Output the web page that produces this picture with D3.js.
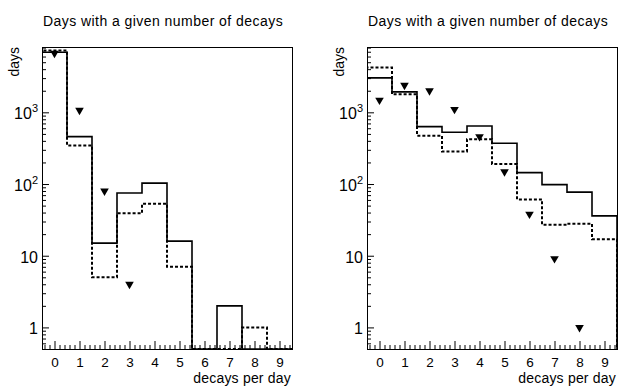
<!DOCTYPE html>
<html>
<head>
<meta charset="utf-8">
<script src="https://cdn.jsdelivr.net/npm/d3@7"></script>
<style>
  body { margin: 0; background: #fff; }
  svg { display: block; font-family: "Liberation Sans", Arial, Helvetica, sans-serif; }
</style>
</head>
<body>
<svg id="chart" width="618" height="386"></svg>
<script>
// bins: decays per day
var bins = [0, 1, 2, 3, 4, 5, 6, 7, 8, 9];

// left panel
var leftSolid   = [6900, 458, 15, 75, 103, 16, 0, 2, 0, 0];
var leftDashed  = [7300, 344, 5, 39, 53, 7, 0, 0, 1, 0];
var leftMarkers = [6650, 1070, 80, 4.0, null, null, null, null, null, null];

// right panel
var rightSolid   = [3020, 1930, 631, 527, 645, 370, 144, 98, 77, 36];
var rightDashed  = [4220, 1780, 473, 284, 422, 190, 61, 27, 28, 17];
var rightMarkers = [1480, 2390, 2000, 1100, 458, 148, 38, 9.1, 1.0, null];

var yMajor = [1, 10, 100, 1000];
var yMinor = [0.6, 0.7, 0.8, 0.9, 2, 3, 4, 5, 6, 7, 8, 9,
              20, 30, 40, 50, 60, 70, 80, 90,
              200, 300, 400, 500, 600, 700, 800, 900,
              2000, 3000, 4000, 5000, 6000, 7000, 8000];
var yLabels = {1: ["1", ""], 10: ["10", ""], 100: ["10", "2"], 1000: ["10", "3"]};

var titleText = "Days with a given number of decays";
var xTitle = "decays per day";
var yTitle = "days";

var yMin = 0.5, yMax = 8150;

var svg = d3.select("#chart");

function drawPanel(left, solid, dashed, markers, id) {
    var x = d3.scaleLinear().domain([-0.5, 9.5]).range([left, left + 250]);
    var y = d3.scaleLog().domain([yMin, yMax]).range([349, 47]);

    var g = svg.append("g");

    g.append("text")
        .attr("x", left + 121)
        .attr("y", 26)
        .attr("text-anchor", "middle")
        .style("font-size", "14px")
        .style("letter-spacing", "0.45px")
        .text(titleText);

    g.append("clipPath").attr("id", "clip" + id)
        .append("rect")
        .attr("x", left).attr("y", 47)
        .attr("width", 250).attr("height", 302);

    var minorX = [];
    bins.concat([-1]).forEach(function(b) {
        for (var k = 1; k < 5; k++) {
            var v = b + k / 5;
            if (v > -0.5 && v < 9.5) minorX.push(v);
        }
    });

    // x axis ticks (inside frame)
    g.append("g")
        .attr("transform", "translate(0,349)")
        .call(d3.axisBottom(x).tickValues(minorX).tickSize(-4).tickFormat(""))
        .call(function(a) { a.select(".domain").remove(); });

    g.append("g")
        .attr("transform", "translate(0,349)")
        .call(d3.axisBottom(x).tickValues(bins).tickSize(-8).tickPadding(8).tickFormat(d3.format("d")))
        .call(function(a) {
            a.select(".domain").remove();
            a.selectAll("text").style("font-size", "13.5px").attr("fill", "#000");
        });

    // y axis ticks
    g.append("g")
        .attr("transform", "translate(" + left + ",0)")
        .call(d3.axisRight(y).tickValues(yMinor).tickSize(4).tickFormat(""))
        .call(function(a) { a.select(".domain").remove(); });

    var ya = g.append("g")
        .attr("transform", "translate(" + left + ",0)")
        .call(d3.axisLeft(y).tickValues(yMajor).tickSize(-7).tickPadding(4).tickFormat(""))
        .call(function(a) { a.select(".domain").remove(); });

    ya.selectAll(".tick text").each(function(d) {
        var t = d3.select(this).style("font-size", "16px").attr("fill", "#000").attr("dy", "0.4em");
        var lab = yLabels[d];
        t.append("tspan").text(lab[0]);
        if (lab[1]) {
            t.append("tspan").attr("dy", "-7").style("font-size", "11px").text(lab[1]);
        }
    });

    var plot = g.append("g").attr("clip-path", "url(#clip" + id + ")");

    var line = d3.line()
        .x(function(d) { return x(d[0]); })
        .y(function(d) { return y(Math.max(d[1], yMin)); });

    function steps(vals) {
        var pts = [[-0.5, 0]];
        vals.forEach(function(v, i) {
            pts.push([bins[i] - 0.5, v]);
            pts.push([bins[i] + 0.5, v]);
        });
        pts.push([9.5, 0]);
        return pts;
    }

    plot.append("path")
        .attr("d", line(steps(dashed)))
        .attr("fill", "none")
        .attr("stroke", "#000")
        .attr("stroke-width", 2)
        .attr("stroke-dasharray", "3,2");

    plot.append("path")
        .attr("d", line(steps(solid)))
        .attr("fill", "none")
        .attr("stroke", "#000")
        .attr("stroke-width", 1.6);

    var tri = d3.symbol().type(d3.symbolTriangle).size(32);
    plot.selectAll("path.marker")
        .data(bins.filter(function(b, i) { return markers[i] != null; }))
        .enter().append("path")
        .attr("class", "marker")
        .attr("d", tri)
        .attr("fill", "#000")
        .attr("transform", function(b) {
            return "translate(" + x(b) + "," + y(markers[b]) + ") rotate(180)";
        });

    // frame
    g.append("rect")
        .attr("x", left + 0.5).attr("y", 47.5)
        .attr("width", 250).attr("height", 302)
        .attr("fill", "none")
        .attr("stroke", "#000")
        .attr("stroke-width", 1);

    g.append("text")
        .attr("x", left + 249)
        .attr("y", 383)
        .attr("text-anchor", "end")
        .style("font-size", "14px")
        .style("letter-spacing", "0.2px")
        .text(xTitle);

    g.append("text")
        .attr("transform", "translate(" + (left - 23) + ",47) rotate(-90)")
        .attr("text-anchor", "end")
        .style("font-size", "14px")
        .text(yTitle);
}

drawPanel(42, leftSolid, leftDashed, leftMarkers, 1);
drawPanel(367, rightSolid, rightDashed, rightMarkers, 2);
</script>
</body>
</html>
